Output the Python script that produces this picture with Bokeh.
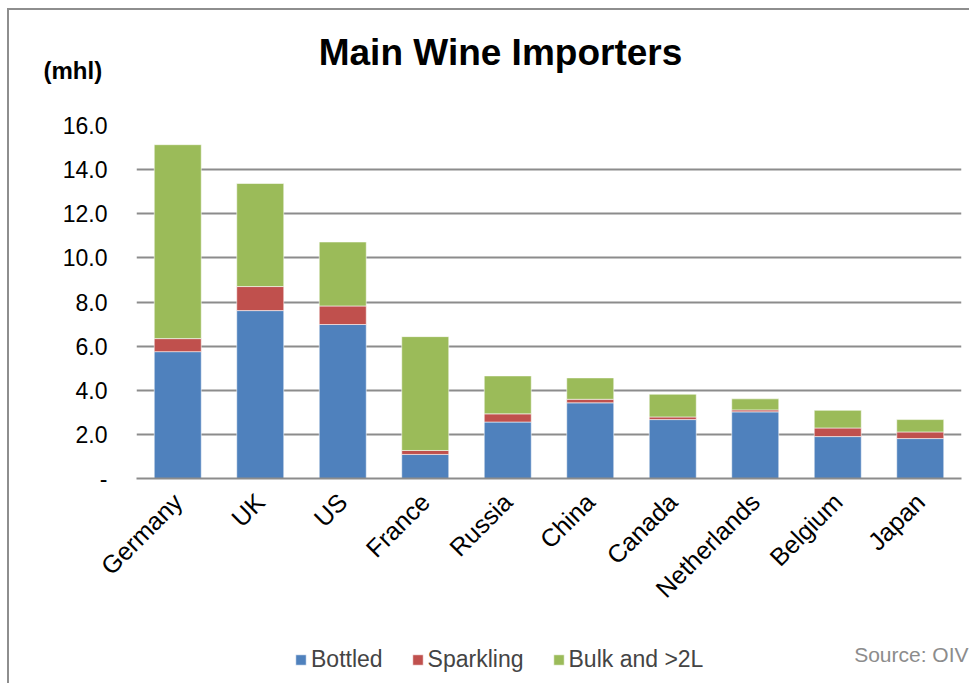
from bokeh.plotting import figure
from bokeh.models import (FactorRange, Range1d, Legend, LegendItem, Label,
                          FixedTicker)
from bokeh.embed import file_html
from bokeh.resources import INLINE

# ---------------- data ----------------
countries = ["Germany", "UK", "US", "France", "Russia", "China", "Canada",
             "Netherlands", "Belgium", "Japan"]
bottled = [5.75, 7.61, 6.98, 1.09, 2.56, 3.43, 2.67, 3.02, 1.90, 1.81]
sparkling = [0.59, 1.09, 0.84, 0.18, 0.37, 0.16, 0.12, 0.09, 0.39, 0.30]
bulk = [8.79, 4.67, 2.90, 5.16, 1.72, 0.97, 1.03, 0.50, 0.80, 0.56]
series = ["Bottled", "Sparkling", "Bulk and >2L"]
colors = ["#4F81BD", "#C0504D", "#9BBB59"]
y_ticks = [0, 2, 4, 6, 8, 10, 12, 14, 16]
y_tick_labels = ["-", "2.0", "4.0", "6.0", "8.0", "10.0", "12.0", "14.0", "16.0"]
title_text = "Main Wine Importers"
unit_text = "(mhl)"
source_text = "Source: OIV"

FONT = "Liberation Sans"
GRID = "#8c8c8c"

p = figure(x_range=FactorRange(*countries), y_range=Range1d(0, 16),
           frame_width=825, frame_height=353,
           output_backend="svg", toolbar_location=None,
           min_border_left=127, min_border_right=8, min_border_top=115,
           min_border_bottom=205)
p.styles = {"margin-left": "7px", "margin-top": "8px",
            "border-left": "2px solid #8e8e8e", "border-top": "2px solid #8e8e8e",
            "width": "962px", "overflow": "hidden"}
p.outline_line_color = None
p.background_fill_color = "white"
p.border_fill_color = "white"

data = {"country": countries, "Bottled": bottled, "Sparkling": sparkling,
        "Bulk and >2L": bulk}
rs = p.vbar_stack(series, x="country", width=0.57, source=data, color=colors,
                  line_color="white", line_alpha=0.55, line_width=1)

# axes
p.yaxis.ticker = FixedTicker(ticks=y_ticks)
p.yaxis.major_label_overrides = {t: l for t, l in zip(y_ticks, y_tick_labels)}
p.yaxis.axis_line_color = None
p.yaxis.major_tick_line_color = None
p.yaxis.minor_tick_line_color = None
p.yaxis.major_tick_out = 0
p.yaxis.major_label_standoff = 29
p.yaxis.major_label_text_font = FONT
p.yaxis.major_label_text_font_size = "23px"
p.yaxis.major_label_text_color = "black"

p.xaxis.axis_line_color = GRID
p.xaxis.axis_line_width = 2
p.xaxis.major_tick_line_color = None
p.xaxis.major_tick_out = 0
p.xaxis.major_label_orientation = 0.785398
p.xaxis.major_label_standoff = 19
p.xaxis.major_label_text_font = FONT
p.xaxis.major_label_text_font_size = "25px"
p.xaxis.major_label_text_color = "black"

p.xgrid.grid_line_color = None
p.ygrid.grid_line_color = GRID
p.ygrid.grid_line_width = 2
p.ygrid.ticker = FixedTicker(ticks=y_ticks)

# legend in a side panel (side-panel annotations are not clipped to the frame);
# its panel starts at the frame's right edge and spans the frame's height
legend = Legend(items=[LegendItem(label=s, renderers=[r]) for s, r in zip(series, rs)],
                location=(-667, -195), orientation="horizontal")
legend.padding = 0
legend.margin = 0
legend.spacing = 28
legend.label_standoff = 4
legend.glyph_width = 13
legend.glyph_height = 13
legend.border_line_color = None
legend.background_fill_alpha = 0
legend.label_text_font = FONT
legend.label_text_font_size = "23px"
p.add_layout(legend, "right")

p.add_layout(Label(x=364, y=73, x_units="screen", y_units="screen", text=title_text,
                   text_font=FONT, text_font_size="37px", text_font_style="bold",
                   text_color="black",
                   text_align="center", text_baseline="alphabetic"), "above")
p.add_layout(Label(x=-93, y=14, x_units="screen", y_units="screen", text=unit_text,
                   text_font=FONT, text_font_size="24px", text_font_style="bold",
                   text_color="black",
                   text_align="left", text_baseline="alphabetic"), "above")
# source note placed through the plot's own scales (bottom-right, below the axis labels)
p.add_layout(Label(x=10.085, y=-7.97, text=source_text,
                   text_font=FONT, text_font_size="21px", text_color="#8c8c8c",
                   text_align="right", text_baseline="alphabetic"), "right")

open("out.html", "w").write(file_html(p, INLINE))
